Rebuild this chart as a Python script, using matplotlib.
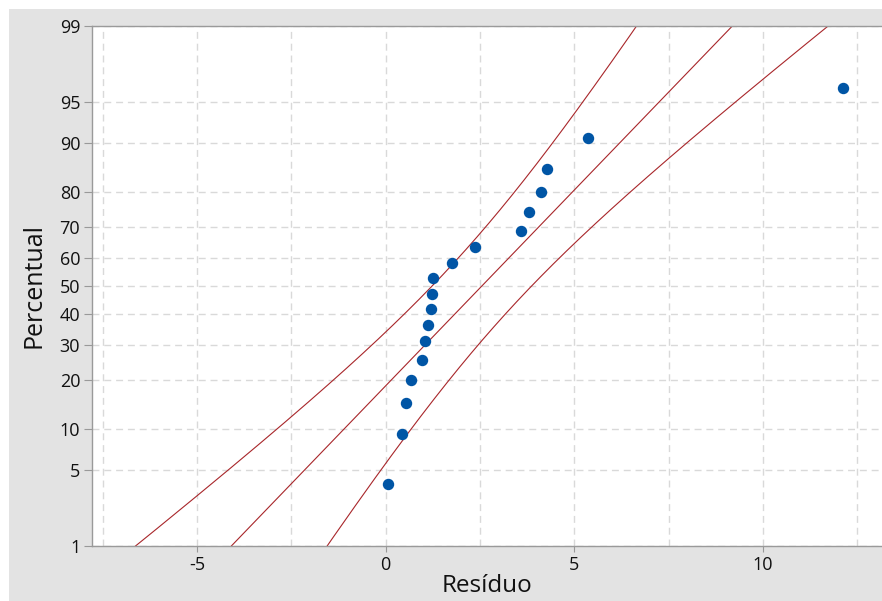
import math
import numpy as np
import matplotlib
matplotlib.use("Agg")
import matplotlib.pyplot as plt
from matplotlib.patches import Rectangle
from matplotlib.ticker import FixedLocator, NullFormatter

plt.rcParams['font.family'] = ['Open Sans', 'DejaVu Sans']
plt.rcParams['axes.unicode_minus'] = False

# ---- data ----
residuals = [0.05, 0.42, 0.54, 0.68, 0.97, 1.03, 1.13, 1.20, 1.23, 1.26,
             1.75, 2.37, 3.59, 3.79, 4.12, 4.28, 5.35, 12.11]
percentiles = [3.8, 9.2, 14.7, 20.1, 25.5, 31.0, 36.4, 41.8, 47.3, 52.7,
               58.2, 63.6, 69.0, 74.5, 79.9, 85.3, 90.8, 96.2]
y_ticks = [1, 5, 10, 20, 30, 40, 50, 60, 70, 80, 90, 95, 99]
x_ticks = [-5, 0, 5, 10]
x_label = "Resíduo"
y_label = "Percentual"


# ---- normal probability scale helpers ----
def _ppf(p):
    """Inverse standard normal CDF (Acklam's approximation), vectorised."""
    p = np.clip(np.asarray(p, dtype=float), 1e-12, 1 - 1e-12)
    a = [-3.969683028665376e+01, 2.209460984245205e+02, -2.759285104469687e+02,
         1.383577518672690e+02, -3.066479806614716e+01, 2.506628277459239e+00]
    b = [-5.447609879822406e+01, 1.615858368580409e+02, -1.556989798598866e+02,
         6.680131188771972e+01, -1.328068155288572e+01]
    c = [-7.784894002430293e-03, -3.223964580411365e-01, -2.400758277161838e+00,
         -2.549732539343734e+00, 4.374664141464968e+00, 2.938163982698783e+00]
    d = [7.784695709041462e-03, 3.224671290700398e-01, 2.445134137142996e+00,
         3.754408661907416e+00]
    plow = 0.02425
    phigh = 1 - plow
    out = np.empty_like(p)
    lo = p < plow
    hi = p > phigh
    mid = ~(lo | hi)
    q = np.sqrt(-2 * np.log(p[lo]))
    out[lo] = (((((c[0]*q + c[1])*q + c[2])*q + c[3])*q + c[4])*q + c[5]) / \
              ((((d[0]*q + d[1])*q + d[2])*q + d[3])*q + 1)
    q = p[mid] - 0.5
    r = q * q
    out[mid] = (((((a[0]*r + a[1])*r + a[2])*r + a[3])*r + a[4])*r + a[5]) * q / \
               (((((b[0]*r + b[1])*r + b[2])*r + b[3])*r + b[4])*r + 1)
    q = np.sqrt(-2 * np.log(1 - p[hi]))
    out[hi] = -(((((c[0]*q + c[1])*q + c[2])*q + c[3])*q + c[4])*q + c[5]) / \
               ((((d[0]*q + d[1])*q + d[2])*q + d[3])*q + 1)
    return out


_erf = np.vectorize(math.erf)


def fwd(pct):
    return _ppf(np.asarray(pct, dtype=float) / 100.0)


def inv(z):
    z = np.asarray(z, dtype=float)
    return 50.0 * (1.0 + _erf(z / math.sqrt(2.0)))


# ---- fitted normal line and 95% CI bands ----
res = np.array(residuals)
n = len(res)
mu = res.mean()
sd = res.std(ddof=1)
p_curve = np.linspace(0.5, 99.5, 400)
z_curve = fwd(p_curve)
x_fit = mu + z_curve * sd
half = 1.96 * sd * np.sqrt(1.0 / n + z_curve ** 2 / (2.0 * n))
x_lo = x_fit - half
x_hi = x_fit + half

# ---- figure ----
W, H = 882, 601
fig = plt.figure(figsize=(W / 100, H / 100), dpi=100)
fig.patch.set_facecolor('white')
fig.add_artist(Rectangle((9 / W, 0), 1 - 9 / W, 1 - 9 / H, transform=fig.transFigure,
                         facecolor='#e3e3e3', edgecolor='none', zorder=0))

left_px, right_px, top_px, bot_px = 92, 882, 26, 546
ax = fig.add_axes([left_px / W, 1 - bot_px / H, (right_px - left_px) / W,
                   (bot_px - top_px) / H])
ax.set_facecolor('white')
ax.set_yscale('function', functions=(fwd, inv))
ax.set_ylim(1, 99)
ax.set_xlim(-7.78, 13.15)

grid_kw = dict(color='#d9d9d9', linestyle=(0, (5, 3.5)), linewidth=1.0)
ax.set_xticks(x_ticks)
ax.xaxis.set_minor_locator(FixedLocator([-7.5, -2.5, 2.5, 7.5, 12.5]))
ax.xaxis.set_minor_formatter(NullFormatter())
ax.grid(True, which='both', axis='x', **grid_kw)
ax.set_yticks(y_ticks)
ax.set_yticklabels([str(v) for v in y_ticks])
ax.yaxis.set_minor_locator(FixedLocator([]))
ax.grid(True, which='major', axis='y', **grid_kw)
ax.set_axisbelow(True)

ax.tick_params(axis='x', which='major', length=4.5, width=0.8, color='#999999',
               labelsize=13, labelcolor='#111111', pad=3)
ax.tick_params(axis='x', which='minor', length=0)
ax.tick_params(axis='y', which='major', length=6, width=0.8, color='#999999',
               labelsize=13, labelcolor='#111111', pad=2.5)
for s in ['left', 'top', 'bottom']:
    ax.spines[s].set_color('#9a9a9a')
    ax.spines[s].set_linewidth(1.0)
ax.spines['right'].set_visible(False)

line_color = '#a8262a'
ax.plot(x_fit, p_curve, color=line_color, linewidth=0.8, zorder=2)
ax.plot(x_lo, p_curve, color=line_color, linewidth=0.8, zorder=2)
ax.plot(x_hi, p_curve, color=line_color, linewidth=0.8, zorder=2)
ax.plot(residuals, percentiles, linestyle='none', marker='o', markersize=7.2,
        markerfacecolor='#0055a5', markeredgecolor='#0055a5', zorder=3)

ax.set_xlabel(x_label, fontsize=17.5, color='#111111')
ax.xaxis.set_label_coords(0.5, -0.054)
ax.xaxis.label.set_va('top')
ax.set_ylabel(y_label, fontsize=18, color='#111111')
ax.yaxis.set_label_coords(-0.058, 0.5)

fig.savefig('out.png', dpi=100)
